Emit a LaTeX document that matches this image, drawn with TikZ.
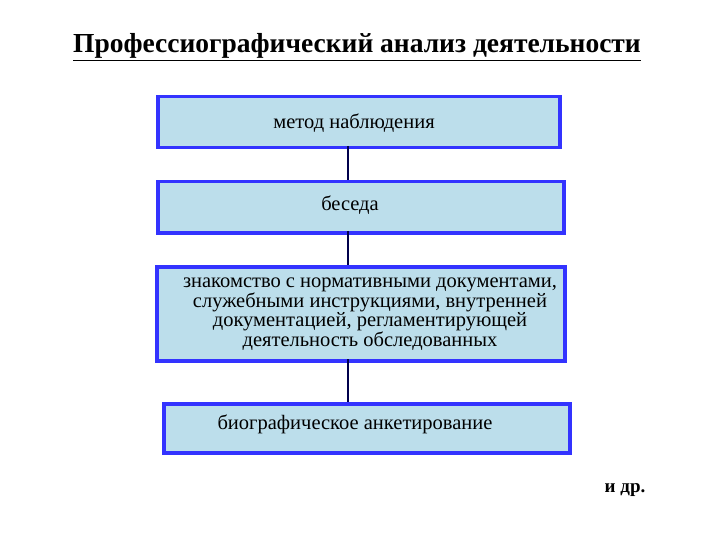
\documentclass[tikz,border=0pt]{standalone}
\usepackage{fontspec}
\setmainfont{Liberation Serif}
\begin{document}
\begin{tikzpicture}[x=1pt,y=-1pt,
  bx/.style={draw=blue!80!white,line width=3.5pt,fill=cyan!25!white!85!gray,minimum height=#1,anchor=north west,inner sep=0pt},
  lbl/.style={font=\rmfamily\fontsize{20.5}{18}\selectfont,align=center},
  conn/.style={draw=blue!30!black,line width=1.5pt}]
\useasboundingbox (0,0) rectangle (720,540);
\node[font=\rmfamily\fontsize{27.5}{30}\selectfont\bfseries] (t) at (357,47) {\underline{Профессиографический анализ деятельности}};
\node[bx=51pt,minimum width=402pt] (b1) at (156,95) {};
\node[bx=51pt,minimum width=406pt] (b2) at (156,180) {};
\node[bx=94pt,minimum width=408pt] (b3) at (155,265) {};
\node[bx=49pt,minimum width=406pt] (b4) at (162,402) {};
\node[lbl] (l1) at (354,123) {метод наблюдения};
\node[lbl] (l2) at (350,205) {беседа};
\node[lbl] (l3) at (370,314) {знакомство с нормативными документами,\\служебными инструкциями, внутренней\\документацией, регламентирующей\\деятельность обследованных};
\node[lbl] (l4) at (355,424) {биографическое анкетирование};
\coordinate (c1) at (348,146); \coordinate (c2) at (348,180);
\coordinate (c3) at (348,231); \coordinate (c4) at (348,265);
\coordinate (c5) at (348,359); \coordinate (c6) at (348,402);
\draw[conn] (c1) -- (c2);
\draw[conn] (c3) -- (c4);
\draw[conn] (c5) -- (c6);
\node[font=\rmfamily\fontsize{19}{20}\selectfont\bfseries] (d) at (625,490) {и др.};
\end{tikzpicture}
\end{document}
